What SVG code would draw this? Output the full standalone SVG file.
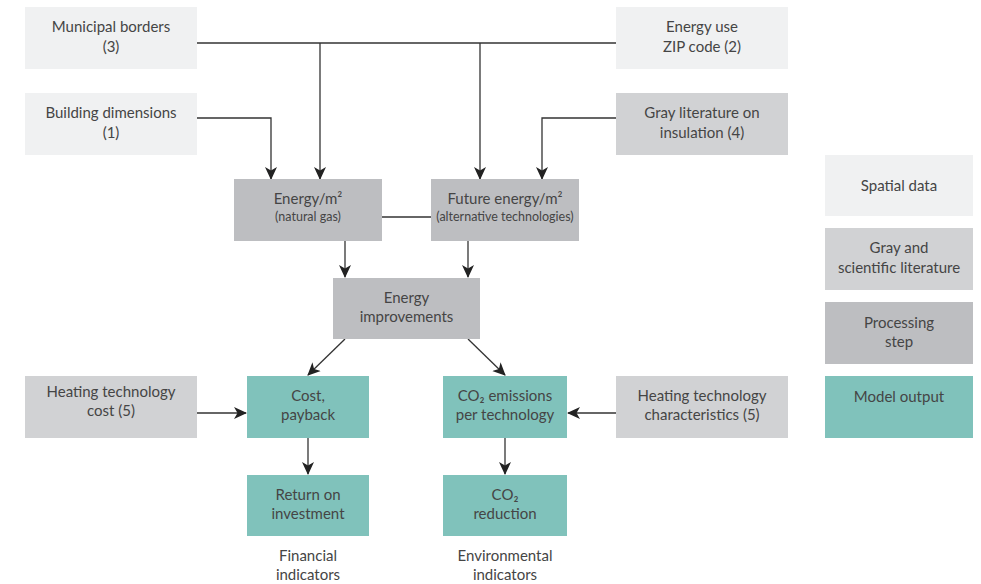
<svg xmlns="http://www.w3.org/2000/svg" width="981" height="584" viewBox="0 0 981 584">
<style>
.sp{fill:#f0f1f2}
.gl{fill:#d1d2d4}
.pr{fill:#bdbec1}
.mo{fill:#80c2bb}
text{font-family:Lato,"Liberation Sans",sans-serif;font-size:15px;fill:#454545;text-anchor:middle}
.sm{font-size:12.5px}
.ln{fill:none;stroke:#333;stroke-width:1.3}
</style>
<defs>
<marker id="ah" markerUnits="userSpaceOnUse" markerWidth="14" markerHeight="14" viewBox="0 0 14 14" refX="12" refY="7" orient="auto">
<path d="M0,1 L13,7 L0,13 L3.5,7 z" fill="#222"/>
</marker>
</defs>
<rect width="981" height="584" fill="#fff"/>

<g id="connectors">
<path class="ln" d="M197,43 H616"/>
<path class="ln" d="M320,43 V179" marker-end="url(#ah)"/>
<path class="ln" d="M480,43 V179" marker-end="url(#ah)"/>
<path class="ln" d="M197,118 H271 V179" marker-end="url(#ah)"/>
<path class="ln" d="M616,118 H542 V179" marker-end="url(#ah)"/>
<path class="ln" d="M382,217 H431"/>
<path class="ln" d="M345,241 V277" marker-end="url(#ah)"/>
<path class="ln" d="M468,241 V277" marker-end="url(#ah)"/>
<path class="ln" d="M345,339 L308,375" marker-end="url(#ah)"/>
<path class="ln" d="M468,339 L505,375" marker-end="url(#ah)"/>
<path class="ln" d="M197,413 H246" marker-end="url(#ah)"/>
<path class="ln" d="M616,413 H568" marker-end="url(#ah)"/>
<path class="ln" d="M308,438 V474" marker-end="url(#ah)"/>
<path class="ln" d="M505,438 V474" marker-end="url(#ah)"/>
</g>

<g id="municipal-borders">
<rect class="sp" x="25" y="7" width="172" height="62"/>
<text x="111" y="32">Municipal borders</text>
<text x="111" y="52">(3)</text>
</g>
<g id="energy-use-zip">
<rect class="sp" x="616" y="7" width="172" height="62"/>
<text x="702" y="32">Energy use</text>
<text x="702" y="52">ZIP code (2)</text>
</g>
<g id="building-dimensions">
<rect class="sp" x="25" y="93" width="172" height="62"/>
<text x="111" y="118">Building dimensions</text>
<text x="111" y="138">(1)</text>
</g>
<g id="gray-literature-insulation">
<rect class="gl" x="616" y="93" width="172" height="62"/>
<text x="702" y="118">Gray literature on</text>
<text x="702" y="138">insulation (4)</text>
</g>
<g id="energy-m2">
<rect class="pr" x="234" y="179" width="148" height="62"/>
<text x="308" y="204">Energy/m²</text>
<text class="sm" x="308" y="221">(natural gas)</text>
</g>
<g id="future-energy-m2">
<rect class="pr" x="431" y="179" width="148" height="62"/>
<text x="505" y="204">Future energy/m²</text>
<text class="sm" x="505" y="221">(alternative technologies)</text>
</g>
<g id="energy-improvements">
<rect class="pr" x="333" y="278" width="147" height="61"/>
<text x="406.5" y="303">Energy</text>
<text x="406.5" y="322">improvements</text>
</g>
<g id="heating-technology-cost">
<rect class="gl" x="25" y="376" width="172" height="62"/>
<text x="111" y="397">Heating technology</text>
<text x="111" y="416">cost (5)</text>
</g>
<g id="cost-payback">
<rect class="mo" x="247" y="376" width="122" height="62"/>
<text x="308" y="401">Cost,</text>
<text x="308" y="420">payback</text>
</g>
<g id="co2-emissions">
<rect class="mo" x="443" y="376" width="124" height="62"/>
<text x="505" y="401">CO₂ emissions</text>
<text x="505" y="420">per technology</text>
</g>
<g id="heating-technology-characteristics">
<rect class="gl" x="616" y="376" width="172" height="62"/>
<text x="702" y="401">Heating technology</text>
<text x="702" y="420">characteristics (5)</text>
</g>
<g id="return-on-investment">
<rect class="mo" x="247" y="475" width="122" height="61"/>
<text x="308" y="500">Return on</text>
<text x="308" y="519">investment</text>
</g>
<g id="co2-reduction">
<rect class="mo" x="443" y="475" width="124" height="61"/>
<text x="505" y="500">CO₂</text>
<text x="505" y="519">reduction</text>
</g>
<g id="financial-indicators">
<text x="308" y="561">Financial</text>
<text x="308" y="580">indicators</text>
</g>
<g id="environmental-indicators">
<text x="505" y="561">Environmental</text>
<text x="505" y="580">indicators</text>
</g>

<g id="legend-spatial">
<rect class="sp" x="825" y="155" width="148" height="61"/>
<text x="899" y="191">Spatial data</text>
</g>
<g id="legend-gray">
<rect class="gl" x="825" y="228" width="148" height="62"/>
<text x="899" y="253">Gray and</text>
<text x="899" y="273">scientific literature</text>
</g>
<g id="legend-processing">
<rect class="pr" x="825" y="302" width="148" height="62"/>
<text x="899" y="328">Processing</text>
<text x="899" y="347">step</text>
</g>
<g id="legend-model">
<rect class="mo" x="825" y="376" width="148" height="62"/>
<text x="899" y="402">Model output</text>
</g>
</svg>
